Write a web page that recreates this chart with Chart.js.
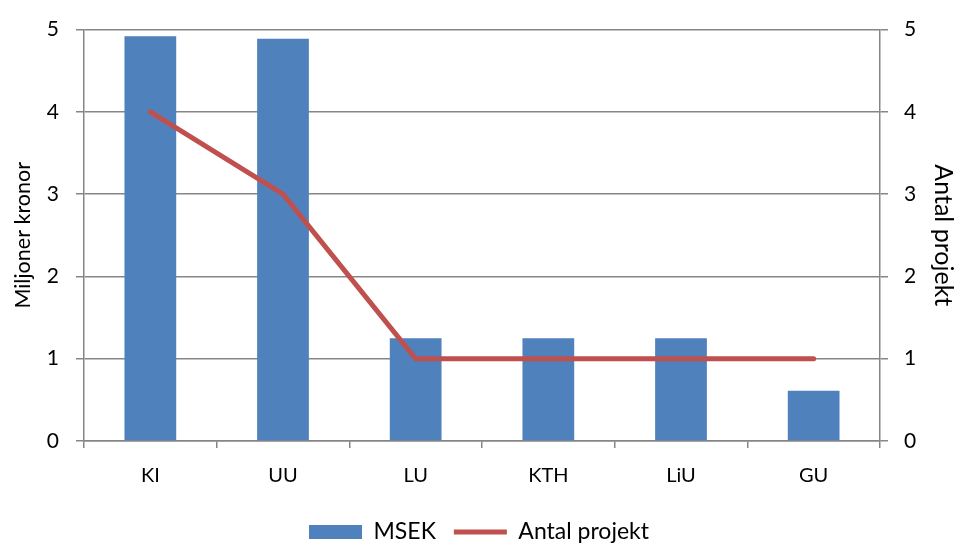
<!DOCTYPE html>
<html>
<head>
<meta charset="utf-8">
<script src="https://cdn.jsdelivr.net/npm/chart.js@4"></script>
<style>
  html, body { margin: 0; padding: 0; background: #fff; }
  #wrap { width: 958px; height: 543px; }
</style>
</head>
<body>
<div id="wrap"><canvas id="chart" width="958" height="543"></canvas></div>
<script>
// Data
const categories = ['KI', 'UU', 'LU', 'KTH', 'LiU', 'GU'];
const msek = [4.92, 4.89, 1.25, 1.25, 1.25, 0.61];
const antalProjekt = [4, 3, 1, 1, 1, 1];
const axisTicks = [0, 1, 2, 3, 4, 5];

const gridColor = '#868686';
const fontFamily = 'Lato, "Open Sans", sans-serif';

Chart.defaults.font.family = fontFamily;
Chart.defaults.color = '#000';

const ctx = document.getElementById('chart').getContext('2d');
new Chart(ctx, {
    data: {
        labels: categories,
        datasets: [
            {
                type: 'line',
                label: 'Antal projekt',
                data: antalProjekt,
                yAxisID: 'y1',
                borderColor: '#C0504D',
                backgroundColor: '#C0504D',
                borderWidth: 5,
                borderCapStyle: 'round',
                pointRadius: 0,
                pointStyle: 'line',
                tension: 0,
                order: 0
            },
            {
                type: 'bar',
                label: 'MSEK',
                data: msek,
                yAxisID: 'y',
                backgroundColor: '#4F81BD',
                borderWidth: 0,
                categoryPercentage: 1,
                barPercentage: 0.39,
                pointStyle: 'rect',
                order: 1
            }
        ]
    },
    options: {
        responsive: false,
        animation: false,
        layout: { padding: { top: 22, right: 0, left: 0, bottom: -10.5 } },
        plugins: {
            tooltip: { enabled: false },
            legend: {
                position: 'bottom',
                reverse: true,
                labels: {
                    usePointStyle: true,
                    pointStyleWidth: 53,
                    boxHeight: 14,
                    padding: 18,
                    font: { size: 23 }
                }
            }
        },
        scales: {
            x: {
                offset: true,
                afterFit: s => { s.height = 61.5; },
                grid: {
                    offset: true,
                    drawOnChartArea: false,
                    color: gridColor,
                    lineWidth: 1.5,
                    tickLength: 7
                },
                border: { color: gridColor, width: 1.5 },
                ticks: { padding: 16, font: { size: 20 } }
            },
            y: {
                position: 'left',
                min: 0,
                max: 5,
                afterFit: s => { s.width = 84; },
                afterBuildTicks: s => { s.ticks = axisTicks.map(v => ({ value: v })); },
                grid: { color: gridColor, lineWidth: 1.5, tickLength: 8 },
                border: { color: gridColor, width: 1.5 },
                ticks: { padding: 17, font: { size: 21 } },
                title: {
                    display: true,
                    text: 'Miljoner kronor',
                    font: { size: 21.5 },
                    padding: { top: 10, bottom: 0 }
                }
            },
            y1: {
                position: 'right',
                min: 0,
                max: 5,
                afterFit: s => { s.width = 78; },
                afterBuildTicks: s => { s.ticks = axisTicks.map(v => ({ value: v })); },
                grid: { drawOnChartArea: false, color: gridColor, lineWidth: 1.5, tickLength: 8 },
                border: { color: gridColor, width: 1.5 },
                ticks: { padding: 16, font: { size: 21 } },
                title: {
                    display: true,
                    text: 'Antal projekt',
                    font: { size: 25 },
                    padding: { top: 0, bottom: 0 }
                }
            }
        }
    }
});
</script>
</body>
</html>
